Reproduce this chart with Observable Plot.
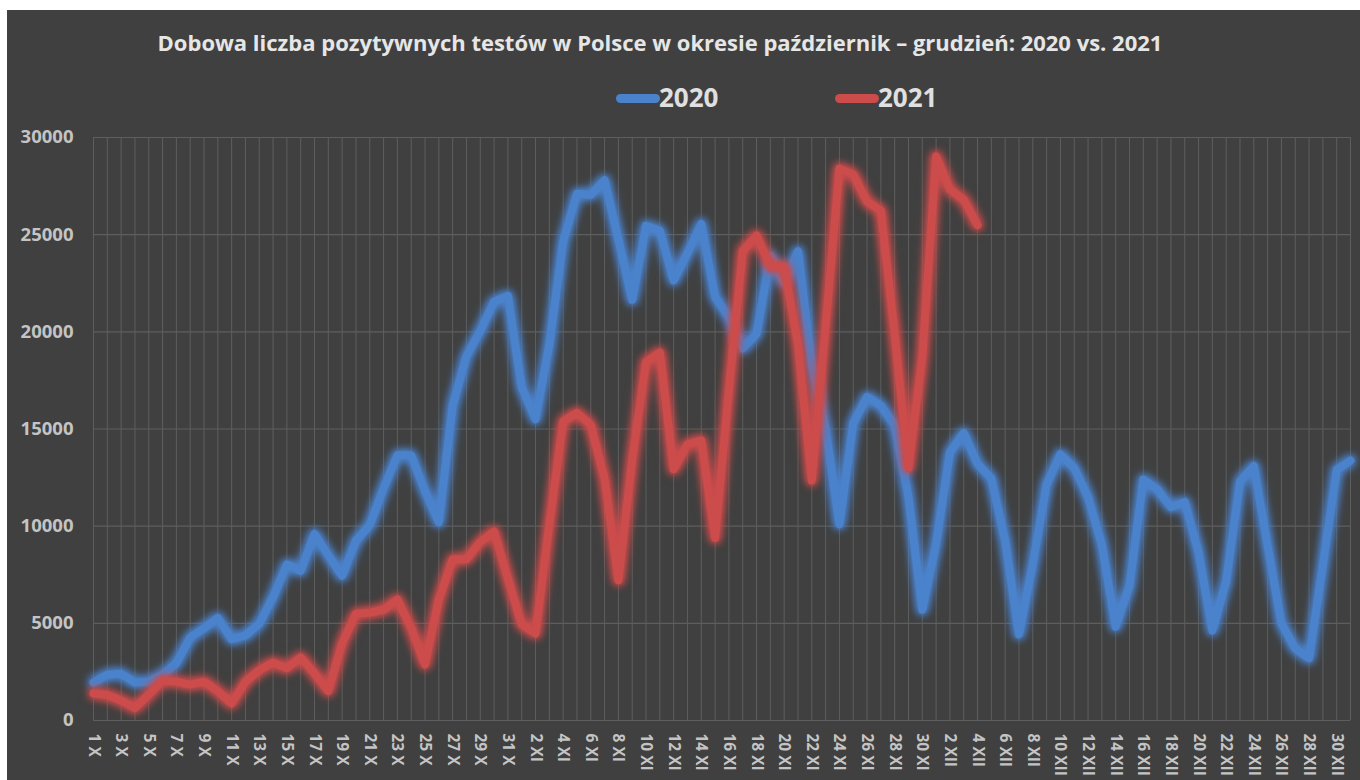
<!DOCTYPE html>
<html>
<head>
<meta charset="utf-8">
<script src="https://cdn.jsdelivr.net/npm/d3@7"></script>
<script src="https://cdn.jsdelivr.net/npm/@observablehq/plot@0.6"></script>
<style>
  html, body { margin: 0; padding: 0; background: #ffffff; }
  #wrap { position: relative; width: 1360px; height: 780px; overflow: hidden; }
  #panel { position: absolute; left: 7px; top: 10px; width: 1360px; height: 780px; background: #404040; }
  #title { position: absolute; left: 0; width: 1320px; top: 27px; text-align: center;
    font-family: "Open Sans", sans-serif; font-weight: 700; font-size: 22px; color: #e6e6e6; white-space: nowrap; }
  .leg { position: absolute; top: 81px; font-family: "Open Sans", sans-serif; font-weight: 700; font-size: 26px; color: #e0e0e0; line-height: 32px; }
  .sw { position: absolute; top: 94px; width: 44px; height: 9px; border-radius: 5px; }
  #chart { position: absolute; left: 0; top: 120px; }
</style>
</head>
<body>
<div id="wrap">
  <div id="panel"></div>
  <div id="title">Dobowa liczba pozytywnych testów w Polsce w okresie październik – grudzień: 2020 vs. 2021</div>
  <div class="sw" style="left:616px;background:#4a82cc"></div>
  <div class="leg" style="left:659px">2020</div>
  <div class="sw" style="left:835px;background:#cc4b4b"></div>
  <div class="leg" style="left:878px">2021</div>
  <div id="chart"></div>
</div>
<script>
const days = [
  "1 X","2 X","3 X","4 X","5 X","6 X","7 X","8 X","9 X","10 X","11 X","12 X","13 X","14 X","15 X","16 X",
  "17 X","18 X","19 X","20 X","21 X","22 X","23 X","24 X","25 X","26 X","27 X","28 X","29 X","30 X","31 X",
  "1 XI","2 XI","3 XI","4 XI","5 XI","6 XI","7 XI","8 XI","9 XI","10 XI","11 XI","12 XI","13 XI","14 XI","15 XI",
  "16 XI","17 XI","18 XI","19 XI","20 XI","21 XI","22 XI","23 XI","24 XI","25 XI","26 XI","27 XI","28 XI","29 XI","30 XI",
  "1 XII","2 XII","3 XII","4 XII","5 XII","6 XII","7 XII","8 XII","9 XII","10 XII","11 XII","12 XII","13 XII","14 XII","15 XII","16 XII",
  "17 XII","18 XII","19 XII","20 XII","21 XII","22 XII","23 XII","24 XII","25 XII","26 XII","27 XII","28 XII","29 XII","30 XII","31 XII"
];

const cases2020 = [
  1950, 2350, 2400, 1950, 2000, 2350, 2950, 4270, 4750, 5280, 4180, 4380, 4980, 6350, 8030, 7700,
  9600, 8500, 7450, 9250, 10050, 11950, 13650, 13650, 11800, 10200, 16200, 18750, 20050, 21550, 21850,
  17150, 15500, 19350, 24650, 27100, 27050, 27800, 24750, 21650, 25450, 25200, 22650, 24050, 25550,
  21800, 20750, 19150, 19900, 23900, 22550, 24150, 18300, 15000, 10100, 15300, 16650, 16200, 15200, 11500, 5700,
  9100, 13800, 14800, 13200, 12450, 9250, 4430, 8050, 12150, 13700, 13000, 11500, 9050, 4820, 6930, 12400,
  11900, 10980, 11250, 8650, 4630, 7170, 12300, 13100, 9000, 5000, 3700, 3200, 8000, 12900, 13380
];

const cases2021 = [
  1400, 1310, 1030, 650, 1330, 2060, 2000, 1850, 2000, 1510, 880, 2000, 2590, 2980, 2690, 3250,
  2420, 1510, 3970, 5500, 5550, 5700, 6230, 4760, 2880, 6230, 8300, 8300, 9190, 9730, 7300,
  4950, 4480, 10090, 15390, 15830, 15200, 12450, 7220, 13430, 18450, 18940, 12930, 14210, 14410,
  9390, 17000, 24160, 24960, 23360, 23360, 19350, 12350, 20300, 28400, 28100, 26700, 26240, 19900, 13000, 18700,
  29040, 27320, 26800, 25490
];

const series = ["2020", "2021"];
const colors = ["#4a82cc", "#cc4b4b"];
const yTicks = [0, 5000, 10000, 15000, 20000, 25000, 30000];

const data = [
  ...cases2020.map((v, i) => ({i, v, s: series[0]})),
  ...cases2021.map((v, i) => ({i, v, s: series[1]}))
];

const plot = Plot.plot({
  width: 1360,
  height: 660,
  marginLeft: 93,
  marginRight: 10,
  marginTop: 17,
  marginBottom: 60,
  style: { background: "transparent", overflow: "visible" },
  x: { domain: [0, days.length - 1], axis: null },
  y: { domain: [0, 30000], axis: null },
  color: { domain: series, range: colors },
  marks: [
    Plot.gridX(d3.range(days.length), { stroke: "#5e5e5e", strokeOpacity: 1, strokeWidth: 1 }),
    Plot.gridY(yTicks, { stroke: "#5e5e5e", strokeOpacity: 1, strokeWidth: 1.2 }),
    Plot.axisY(yTicks, {
      label: null, tickSize: 0, tickPadding: 20, tickFormat: d => String(d),
      fill: "#c4c4c4", fontSize: 18.5, fontWeight: "bold", fontFamily: "Open Sans"
    }),
    Plot.axisX(d3.range(0, days.length, 2), {
      label: null, tickSize: 0, tickPadding: 13, tickRotate: 90, tickFormat: i => days[i],
      fill: "#c4c4c4", fontSize: 15.5, fontWeight: "bold", fontFamily: "Open Sans"
    }),
    Plot.line(data, { x: "i", y: "v", z: "s", stroke: "s", strokeWidth: 8, strokeLinejoin: "round", strokeLinecap: "round" })
  ]
});

document.getElementById("chart").appendChild(plot);

// soft glow round the lines, as in the reference
d3.select(plot).selectAll('g[aria-label="line"] path').each(function() {
  const c = d3.select(this).attr("stroke");
  d3.select(this).style("filter", `drop-shadow(0 0 4px ${c}) drop-shadow(0 0 3px ${c})`);
});
</script>
</body>
</html>
